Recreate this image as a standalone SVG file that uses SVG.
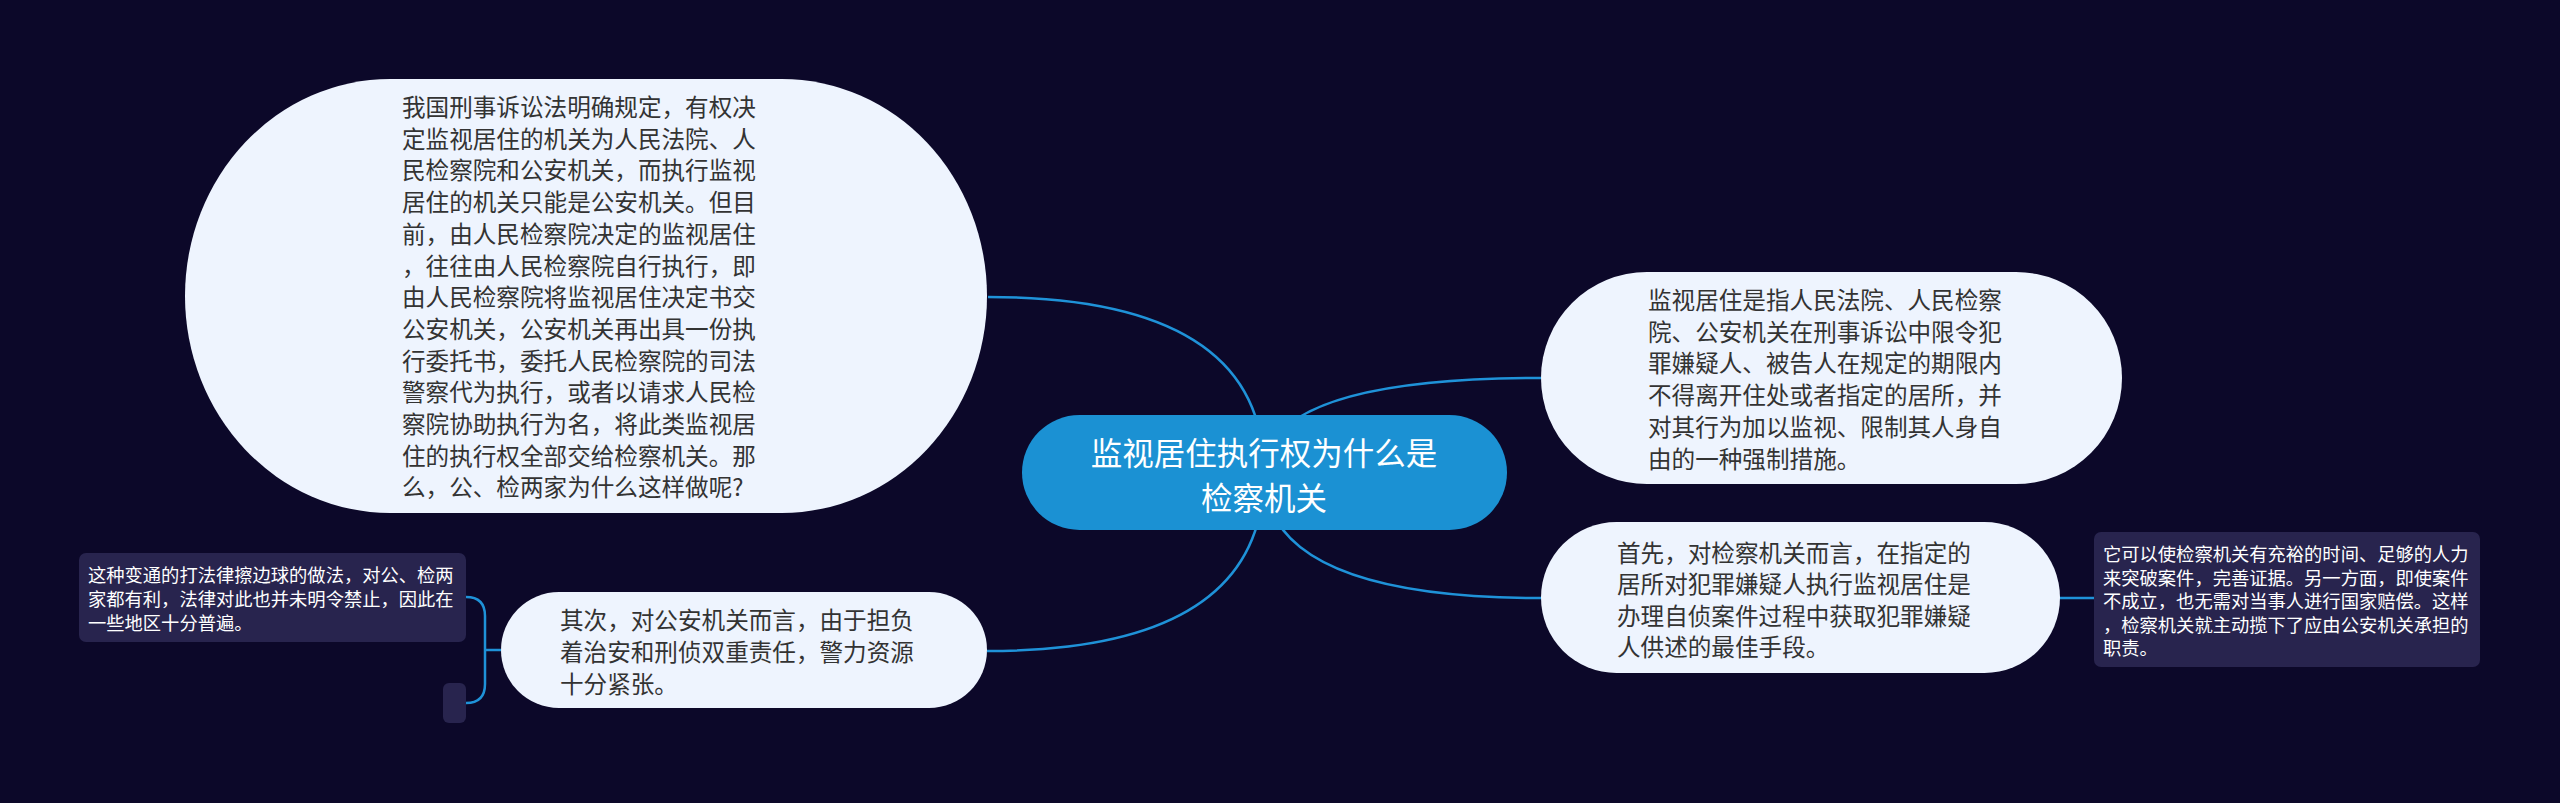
<svg xmlns="http://www.w3.org/2000/svg" width="2560" height="803" viewBox="0 0 2560 803">
<style>
.bg{fill:#0c0829}
.light{fill:#eef4fe}
.dark{fill:#28244e}
.root{fill:#1b91d3}
.conn{fill:none;stroke:#1f92d8;stroke-width:2.5}
.t{font-family:"Noto Sans CJK SC","Noto Sans",sans-serif;font-size:23.6px;fill:#333333}
.tw{font-family:"Noto Sans CJK SC","Noto Sans",sans-serif;font-size:18.3px;fill:#ffffff}
.tr{font-family:"Noto Sans CJK SC","Noto Sans",sans-serif;font-size:31.5px;fill:#ffffff;text-anchor:middle}
</style>
<rect class="bg" x="0" y="0" width="2560" height="803"/>
<g id="connectors">
<path class="conn" d="M1264 473 Q1264 297 988 297"/>
<path class="conn" d="M1264 473 Q1264 378 1541 378"/>
<path class="conn" d="M1264 473 Q1264 598 1541 598"/>
<path class="conn" d="M1264 473 Q1264 651 987 651"/>
<path class="conn" d="M2060 598 H2094"/>
<path class="conn" d="M501 650 H485"/>
<path class="conn" d="M466 597 Q485 597 485 616 V684 Q485 703 466 703"/>
</g>
<g id="node-root">
<rect class="root" x="1022" y="415" width="485" height="115" rx="57.5" ry="57.5"/>
<text class="tr" x="1264" y="465">监视居住执行权为什么是</text>
<text class="tr" x="1264" y="510">检察机关</text>
</g>
<g id="node-left-big">
<rect class="light" x="185" y="79" width="802" height="434" rx="205" ry="217"/>
<text class="t" x="402" y="116"><tspan x="402">我国刑事诉讼法明确规定，有权决</tspan><tspan x="402" dy="31.7">定监视居住的机关为人民法院、人</tspan><tspan x="402" dy="31.7">民检察院和公安机关，而执行监视</tspan><tspan x="402" dy="31.7">居住的机关只能是公安机关。但目</tspan><tspan x="402" dy="31.7">前，由人民检察院决定的监视居住</tspan><tspan x="402" dy="31.7">，往往由人民检察院自行执行，即</tspan><tspan x="402" dy="31.7">由人民检察院将监视居住决定书交</tspan><tspan x="402" dy="31.7">公安机关，公安机关再出具一份执</tspan><tspan x="402" dy="31.7">行委托书，委托人民检察院的司法</tspan><tspan x="402" dy="31.7">警察代为执行，或者以请求人民检</tspan><tspan x="402" dy="31.7">察院协助执行为名，将此类监视居</tspan><tspan x="402" dy="31.7">住的执行权全部交给检察机关。那</tspan><tspan x="402" dy="31.7">么，公、检两家为什么这样做呢?</tspan></text>
</g>
<g id="node-right-top">
<rect class="light" x="1541" y="272" width="581" height="212" rx="106" ry="106"/>
<text class="t" x="1648" y="309"><tspan x="1648">监视居住是指人民法院、人民检察</tspan><tspan x="1648" dy="31.7">院、公安机关在刑事诉讼中限令犯</tspan><tspan x="1648" dy="31.7">罪嫌疑人、被告人在规定的期限内</tspan><tspan x="1648" dy="31.7">不得离开住处或者指定的居所，并</tspan><tspan x="1648" dy="31.7">对其行为加以监视、限制其人身自</tspan><tspan x="1648" dy="31.7">由的一种强制措施。</tspan></text>
</g>
<g id="node-right-bottom">
<rect class="light" x="1541" y="522" width="519" height="151" rx="75.5" ry="75.5"/>
<text class="t" x="1617" y="562"><tspan x="1617">首先，对检察机关而言，在指定的</tspan><tspan x="1617" dy="31.3">居所对犯罪嫌疑人执行监视居住是</tspan><tspan x="1617" dy="31.3">办理自侦案件过程中获取犯罪嫌疑</tspan><tspan x="1617" dy="31.3">人供述的最佳手段。</tspan></text>
</g>
<g id="node-far-right">
<rect class="dark" x="2094" y="532" width="386" height="135" rx="7" ry="7"/>
<text class="tw" x="2103" y="561"><tspan x="2103">它可以使检察机关有充裕的时间、足够的人力</tspan><tspan x="2103" dy="23.5">来突破案件，完善证据。另一方面，即使案件</tspan><tspan x="2103" dy="23.5">不成立，也无需对当事人进行国家赔偿。这样</tspan><tspan x="2103" dy="23.5">，检察机关就主动揽下了应由公安机关承担的</tspan><tspan x="2103" dy="23.5">职责。</tspan></text>
</g>
<g id="node-left-bottom">
<rect class="light" x="501" y="592" width="486" height="116" rx="58" ry="58"/>
<text class="t" x="560" y="629"><tspan x="560">其次，对公安机关而言，由于担负</tspan><tspan x="560" dy="32">着治安和刑侦双重责任，警力资源</tspan><tspan x="560" dy="32">十分紧张。</tspan></text>
</g>
<g id="node-far-left">
<rect class="dark" x="79" y="553" width="387" height="89" rx="7" ry="7"/>
<text class="tw" x="88" y="582"><tspan x="88">这种变通的打法律擦边球的做法，对公、检两</tspan><tspan x="88" dy="24">家都有利，法律对此也并未明令禁止，因此在</tspan><tspan x="88" dy="24">一些地区十分普遍。</tspan></text>
</g>
<g id="node-empty">
<rect class="dark" x="443" y="683" width="23" height="40" rx="6" ry="6"/>
</g>
</svg>
